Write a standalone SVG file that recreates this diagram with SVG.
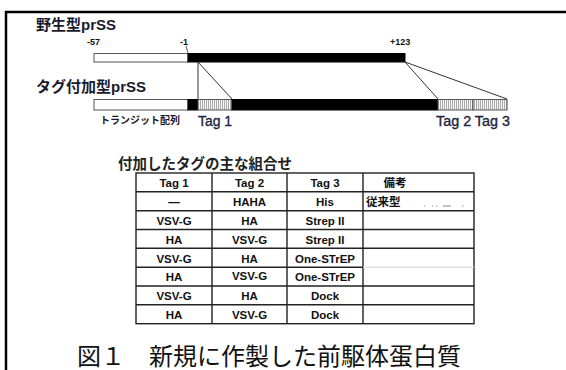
<svg xmlns="http://www.w3.org/2000/svg" width="566" height="370" viewBox="0 0 566 370">
<defs>
<pattern id="hatch" width="2" height="10" patternUnits="userSpaceOnUse">
<rect width="2" height="10" fill="#f4f4f4"/>
<rect width="0.8" height="10" fill="#9a9a9a"/>
</pattern>
<style>
.lbl{font-family:"Liberation Sans","Noto Sans CJK JP",sans-serif;font-weight:bold;fill:#1a1a2e}
.num{font-family:"Liberation Sans",sans-serif;font-weight:bold;font-size:9px;fill:#111}
.tag{font-family:"Liberation Sans",sans-serif;font-size:14px;fill:#1c2440;stroke:#1c2440;stroke-width:0.35}
.cell{font-family:"Liberation Sans","Noto Sans CJK JP",sans-serif;font-weight:bold;font-size:11.5px;fill:#111;text-anchor:middle}
.grid{stroke:#222;stroke-width:1.4;fill:none}
.conn{stroke:#333;stroke-width:1;fill:none}
.wbox{fill:#fff;stroke:#555;stroke-width:1}
.bbox{fill:#000;stroke:#000;stroke-width:1}
.hbox{fill:url(#hatch);stroke:#555;stroke-width:1}
</style>
</defs>
<rect width="566" height="370" fill="#fff"/>
<!-- frame -->
<path d="M6,370 V12 H566" fill="none" stroke="#000" stroke-width="2.5"/>

<g id="wild">
<text class="lbl" x="36" y="30" font-size="15">野生型prSS</text>
<text class="num" x="87" y="45">-57</text>
<text class="num" x="180" y="45">-1</text>
<path d="M186,46 L188,53" stroke="#333" stroke-width="0.8" fill="none"/>
<text class="num" x="390" y="45">+123</text>
<rect class="wbox" x="94" y="53.5" width="94" height="8.5"/>
<rect class="bbox" x="188" y="53.5" width="217" height="8.5"/>
</g>

<g id="connectors">
<path class="conn" d="M198,62 L198,99"/>
<path class="conn" d="M198,62 L232,99"/>
<path class="conn" d="M405,62 L438,99"/>
<path class="conn" d="M405,62 L507,99"/>
</g>

<g id="tagged">
<text class="lbl" x="36" y="92" font-size="15">タグ付加型prSS</text>
<rect class="wbox" x="94" y="99.5" width="94" height="10.5"/>
<rect class="bbox" x="188" y="99.5" width="10" height="10.5"/>
<rect class="hbox" x="198" y="99.5" width="34" height="10.5"/>
<rect class="bbox" x="232" y="99.5" width="206" height="10.5"/>
<rect class="hbox" x="438" y="99.5" width="35" height="10.5"/>
<rect class="hbox" x="473" y="99.5" width="34" height="10.5"/>
<text class="lbl" x="100" y="124" font-size="10">トランジット配列</text>
<text class="tag" x="198" y="126" textLength="34" lengthAdjust="spacingAndGlyphs">Tag 1</text>
<text class="tag" x="436" y="126" textLength="74" lengthAdjust="spacingAndGlyphs">Tag 2 Tag 3</text>
</g>

<g id="table">
<text class="lbl" x="118" y="169" font-size="14.5" style="fill:#222">付加したタグの主な組合せ</text>
<rect class="grid" x="136" y="173" width="338" height="150.7" stroke-width="1.8"/>
<path class="grid" d="M212,173 V323.7 M287,173 V323.7 M363,173 V323.7"/>
<path class="grid" d="M136,191.8 H474 M136,210.7 H474 M136,229.5 H474 M136,248.3 H474 M136,267.2 H363 M136,286 H474 M136,304.8 H474"/>
<path d="M363,267.2 H474" stroke="#ddd" stroke-width="1.2"/>
<text class="cell" x="174" y="187">Tag 1</text>
<text class="cell" x="249.5" y="187">Tag 2</text>
<text class="cell" x="325" y="187">Tag 3</text>
<text class="cell" x="395" y="187">備考</text>
<text class="cell" x="174" y="206">—</text>
<text class="cell" x="249.5" y="206">HAHA</text>
<text class="cell" x="325" y="206">His</text>
<text class="cell" x="366" y="206" style="text-anchor:start">従来型</text>
<path d="M424,206 h1.2 M432,206 h1.2 M436,206 h1.2 M443,206 h8 M462,206 h1.5" stroke="#888" stroke-width="1"/>
<text class="cell" x="174" y="225">VSV-G</text>
<text class="cell" x="249.5" y="225">HA</text>
<text class="cell" x="325" y="225">Strep II</text>
<text class="cell" x="174" y="244">HA</text>
<text class="cell" x="249.5" y="244">VSV-G</text>
<text class="cell" x="325" y="244">Strep II</text>
<text class="cell" x="174" y="262.5">VSV-G</text>
<text class="cell" x="249.5" y="262.5">HA</text>
<text class="cell" x="325" y="262.5">One-STrEP</text>
<text class="cell" x="174" y="281">HA</text>
<text class="cell" x="249.5" y="280">VSV-G</text>
<text class="cell" x="325" y="281">One-STrEP</text>
<text class="cell" x="174" y="300">VSV-G</text>
<text class="cell" x="249.5" y="300">HA</text>
<text class="cell" x="325" y="300">Dock</text>
<text class="cell" x="174" y="319">HA</text>
<text class="cell" x="249.5" y="319">VSV-G</text>
<text class="cell" x="325" y="319">Dock</text>
</g>

<g id="caption">
<text x="77" y="365" font-family="'Liberation Serif','Noto Sans CJK JP',serif" font-size="24" fill="#111">図１　新規に作製した前駆体蛋白質</text>
</g>
</svg>
